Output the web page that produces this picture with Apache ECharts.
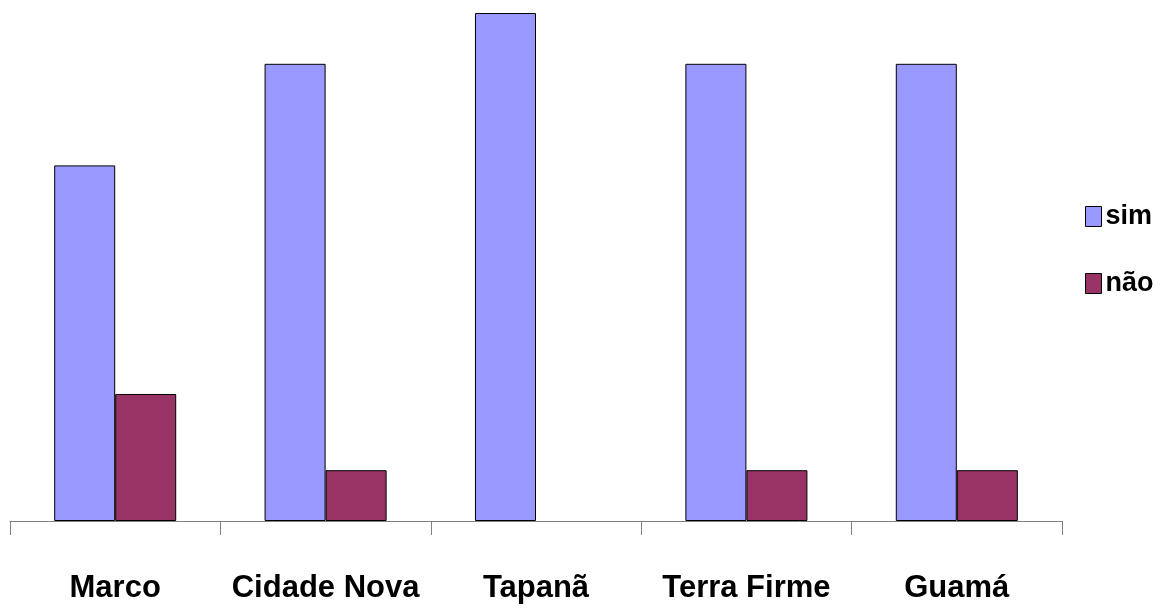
<!DOCTYPE html>
<html>
<head>
<meta charset="utf-8">
<style>
	html,body{margin:0;padding:0;background:#fff;}
	#main{width:1167px;height:612px;}
</style>
<script src="https://cdn.jsdelivr.net/npm/echarts@6/dist/echarts.min.js"></script>
</head>
<body>
<div id="main"></div>
<script type="text/javascript">
// bairros
var categorias = ['Marco', 'Cidade Nova', 'Tapanã', 'Terra Firme', 'Guamá'];
// valores (%)
var simData = [70, 90, 100, 90, 90];
var naoData = [25, 10, 0, 10, 10];

var fonte = '"Liberation Sans Narrow", "Arial Narrow", "Liberation Sans", Arial, sans-serif';

// barra com valor zero: sem borda (não aparece no original)
function semZero(arr){
	return arr.map(function(v){
		return v === 0 ? {value: v, itemStyle: {borderWidth: 0}} : v;
	});
}

var myChart = echarts.init(document.getElementById('main'));
var option = {
	animation: false,
	grid: {
		left: 10,
		right: 105,
		top: 13,
		bottom: 91
	},
	legend: {
		orient: 'vertical',
		left: 1080,
		top: 198,
		icon: 'rect',
		itemWidth: 16,
		itemHeight: 20,
		itemGap: 40,
		data: ['sim', 'não'],
		textStyle: {
			fontFamily: fonte,
			fontWeight: 'bold',
			fontSize: 27,
			color: '#000',
			padding: [0, 0, 0, -1]
		},
		itemStyle: {borderColor: '#000', borderWidth: 1}
	},
	xAxis: {
		type: 'category',
		data: categorias,
		axisLine: {lineStyle: {color: '#808080', width: 1}},
		axisTick: {show: true, interval: 0, length: 14, lineStyle: {color: '#808080'}},
		axisLabel: {
			interval: 0,
			margin: 52,
			fontFamily: fonte,
			fontWeight: 'bold',
			fontSize: 31,
			color: '#000'
		}
	},
	yAxis: {
		type: 'value',
		min: 0,
		max: 100,
		show: false,
		splitLine: {show: false}
	},
	series: [
		{
			name: 'sim',
			type: 'bar',
			data: semZero(simData),
			barGap: '0%',
			barCategoryGap: '42%',
			itemStyle: {color: '#9999FF', borderColor: '#000', borderWidth: 1}
		},
		{
			name: 'não',
			type: 'bar',
			data: semZero(naoData),
			itemStyle: {color: '#993366', borderColor: '#000', borderWidth: 1}
		}
	]
};
myChart.setOption(option);
</script>
</body>
</html>
